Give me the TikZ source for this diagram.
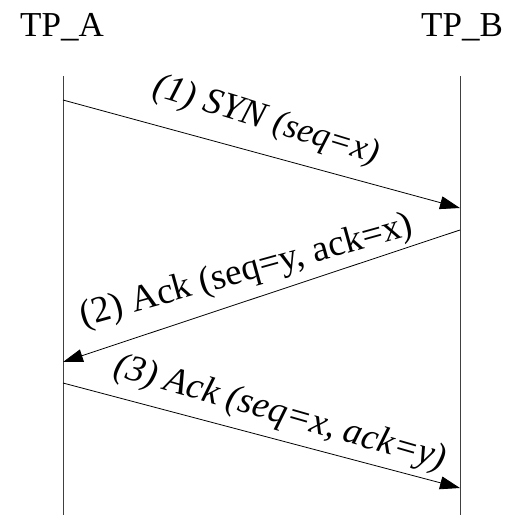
\documentclass[tikz,border=0pt]{standalone}
\usepackage{fontspec}
\setmainfont{Liberation Serif}
\usetikzlibrary{arrows.meta}
\begin{document}
\begin{tikzpicture}[x=1pt,y=-1pt,
  lifeline/.style={draw=black!75, line width=0.9pt},
  msg/.style={draw=black, line width=0.8pt, -{Triangle[length=20pt,width=13pt]}},
  header/.style={font=\fontsize{35}{40}\selectfont, anchor=base},
  lbl/.style={font=\fontsize{37}{42}\selectfont, inner sep=0pt}]
\useasboundingbox (0,0) rectangle (506,515);
\node[header] (ta) at (62,36) {TP\_A};
\node[header] (tb) at (462,36) {TP\_B};
\coordinate (a0) at (63,76);
\coordinate (a1) at (63,515);
\coordinate (b0) at (460,76);
\coordinate (b1) at (460,515);
\draw[lifeline] (a0) -- (a1);
\draw[lifeline] (b0) -- (b1);
\coordinate (m1s) at (63,100);
\coordinate (m1e) at (460,208);
\coordinate (m2s) at (460,230);
\coordinate (m2e) at (63,362);
\coordinate (m3s) at (63,383);
\coordinate (m3e) at (460,488);
\draw[msg] (m1s) -- (m1e);
\draw[msg] (m2s) -- (m2e);
\draw[msg] (m3s) -- (m3e);
\node[lbl, rotate=-17] (l1) at (266,121) {\itshape (1) SYN {\fontsize{35}{40}\selectfont(seq=x)}};
\node[lbl, rotate=15.5] (l2) at (247,272) {(2) Ack (seq=y, ack=x)};
\node[lbl, rotate=-16] (l3) at (280,414) {\itshape (3) Ack (seq=x, ack=y)};
\end{tikzpicture}
\end{document}
